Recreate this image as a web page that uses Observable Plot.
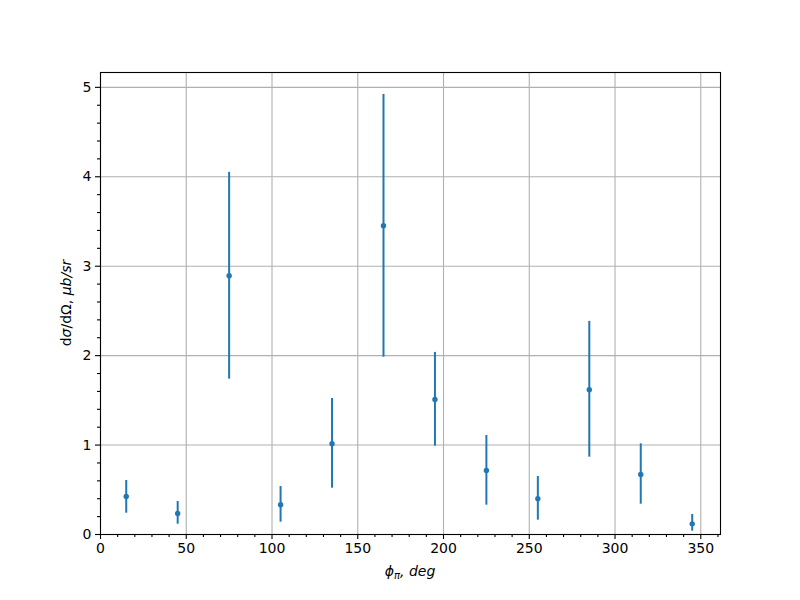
<!DOCTYPE html>
<html>
<head>
<meta charset="utf-8">
<script src="https://cdn.jsdelivr.net/npm/d3@7"></script>
<script src="https://cdn.jsdelivr.net/npm/@observablehq/plot@0.6"></script>
<style>
  html, body { margin: 0; padding: 0; background: #fff; }
  #chart svg { display: block; }
</style>
</head>
<body>
<div id="chart"></div>
<script>
// Data
const phi = [15, 45, 75, 105, 135, 165, 195, 225, 255, 285, 315, 345];
const value = [0.425, 0.235, 2.894, 0.332, 1.014, 3.453, 1.51, 0.716, 0.399, 1.618, 0.671, 0.119];
const lower = [0.238, 0.115, 1.737, 0.138, 0.518, 1.983, 0.988, 0.328, 0.160, 0.865, 0.339, 0.037];
const upper = [0.604, 0.369, 4.050, 0.537, 1.521, 4.920, 2.036, 1.107, 0.649, 2.383, 1.014, 0.224];

const xMajor = [0, 50, 100, 150, 200, 250, 300, 350];
const xMinor = d3.range(0, 361, 10).filter(v => v % 50 !== 0);
const yMajor = [0, 1, 2, 3, 4, 5];
const yMinor = d3.range(0, 5.1, 0.2).map(v => +v.toFixed(1)).filter(v => Math.abs(v - Math.round(v)) > 1e-6);

const data = phi.map((p, i) => ({phi: p, v: value[i], lo: lower[i], hi: upper[i]}));

const blue = "#1f77b4";
const gridColor = "#b0b0b0";

const chart = Plot.plot({
  width: 800,
  height: 600,
  marginLeft: 100,
  marginRight: 80,
  marginTop: 72,
  marginBottom: 66,
  style: {fontFamily: "DejaVu Sans", fontSize: "14px", color: "#000", background: "#fff"},
  x: {domain: [0, 361.5], label: null},
  y: {domain: [0, 5.166], label: null},
  marks: [
    Plot.gridX(xMajor, {stroke: gridColor, strokeOpacity: 1, strokeWidth: 1.1}),
    Plot.gridY(yMajor, {stroke: gridColor, strokeOpacity: 1, strokeWidth: 1.1}),
    Plot.axisX(xMajor, {tickSize: 5, tickPadding: 4, strokeWidth: 1.1, fontSize: 14, tickFormat: d => String(d)}),
    Plot.axisX(xMinor, {tickSize: 3, strokeWidth: 1.1, tickFormat: () => ""}),
    Plot.axisY(yMajor, {tickSize: 5, tickPadding: 4, strokeWidth: 1.1, fontSize: 14, tickFormat: d => String(d)}),
    Plot.axisY(yMinor, {tickSize: 3, strokeWidth: 1.1, tickFormat: () => ""}),
    Plot.ruleX(data, {x: "phi", y1: "lo", y2: "hi", stroke: blue, strokeWidth: 2}),
    Plot.dot(data, {x: "phi", y: "v", r: 2.7, fill: blue, stroke: "none"}),
    Plot.frame({stroke: "#000", strokeWidth: 1.1})
  ]
});

document.getElementById("chart").appendChild(chart);

// Axis titles (mathtext-style labels)
const svg = d3.select(chart);
const xl = svg.append("text")
  .attr("x", 410).attr("y", 576)
  .attr("text-anchor", "middle")
  .attr("font-family", "DejaVu Sans").attr("font-size", 14)
  .attr("font-style", "italic").attr("fill", "#000");
xl.append("tspan").text("ϕ");
xl.append("tspan").attr("font-size", 10).attr("dy", 3).text("π");
xl.append("tspan").attr("dy", -3).text(", deg");

const yl = svg.append("text")
  .attr("transform", "translate(71,303) rotate(-90)")
  .attr("text-anchor", "middle")
  .attr("font-family", "DejaVu Sans").attr("font-size", 14)
  .attr("fill", "#000");
yl.append("tspan").text("d");
yl.append("tspan").attr("font-style", "italic").text("σ");
yl.append("tspan").text("/dΩ, ");
yl.append("tspan").attr("font-style", "italic").text("μb/sr");
</script>
</body>
</html>
